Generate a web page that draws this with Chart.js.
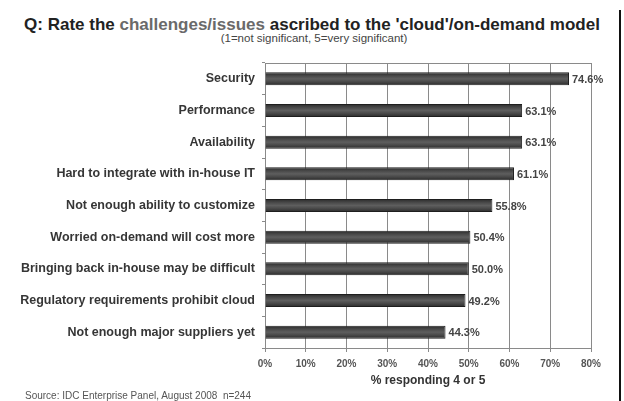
<!DOCTYPE html>
<html>
<head>
<meta charset="utf-8">
<script src="https://cdn.jsdelivr.net/npm/chart.js@4"></script>
<style>
  body { margin: 0; background: #fff; }
  #wrap { position: relative; width: 624px; height: 401px; overflow: hidden; font-family: "Liberation Sans", Arial, sans-serif; }
  #title { position: absolute; left: 0; width: 624px; top: 15px; text-align: center; font-weight: bold; font-size: 17px; color: #222; }
  #title span { color: #6a6a6a; }
  #sub { position: absolute; left: 2px; width: 624px; top: 32px; text-align: center; font-size: 11.5px; color: #444; }
  #source { position: absolute; left: 25px; top: 390px; font-size: 10px; color: #555; }
  #edge { position: absolute; left: 619px; top: 10px; width: 2px; height: 391px; background: #111; }
  canvas { position: absolute; left: 0; top: 0; }
</style>
</head>
<body>
<div id="wrap">
  <div id="title">Q: Rate the <span>challenges/issues</span> ascribed to the 'cloud'/on-demand model</div>
  <div id="sub">(1=not significant, 5=very significant)</div>
  <canvas id="chart" width="624" height="401"></canvas>
  <div id="source">Source: IDC Enterprise Panel, August 2008&nbsp; n=244</div>
  <div id="edge"></div>
</div>
<script>
  const categories = [
    "Security",
    "Performance",
    "Availability",
    "Hard to integrate with in-house IT",
    "Not enough ability to customize",
    "Worried on-demand will cost more",
    "Bringing back in-house may be difficult",
    "Regulatory requirements prohibit cloud",
    "Not enough major suppliers yet"
  ];
  const values = [74.6, 63.1, 63.1, 61.1, 55.8, 50.4, 50.0, 49.2, 44.3];
  const xTicks = [0, 10, 20, 30, 40, 50, 60, 70, 80];

  const FONT = "'Liberation Sans', Arial, sans-serif";

  // value labels at the end of each bar
  const valueLabels = {
    id: "valueLabels",
    afterDatasetsDraw(chart) {
      const ctx = chart.ctx;
      const meta = chart.getDatasetMeta(0);
      ctx.save();
      ctx.font = "bold 11px " + FONT;
      ctx.fillStyle = "#444";
      ctx.textBaseline = "middle";
      meta.data.forEach((bar, i) => {
        ctx.fillText(values[i].toFixed(1) + "%", bar.x + 3, bar.y + 1);
      });
      ctx.restore();
    }
  };

  // top/right frame of plot area
  const frame = {
    id: "frame",
    beforeDatasetsDraw(chart) {
      const { ctx, chartArea } = chart;
      ctx.save();
      ctx.strokeStyle = "#8a8a8a";
      ctx.lineWidth = 1;
      ctx.beginPath();
      ctx.moveTo(chartArea.left, chartArea.top + 0.5);
      ctx.lineTo(chartArea.right + 0.5, chartArea.top + 0.5);
      ctx.lineTo(chartArea.right + 0.5, chartArea.bottom);
      ctx.stroke();
      ctx.restore();
    }
  };

  // shaded bar fill (dark edges, lighter middle)
  function barFill(context) {
    const chart = context.chart;
    const yScale = chart.scales.y;
    if (!yScale || context.dataIndex === undefined) return "#444";
    const cy = yScale.getPixelForValue(context.dataIndex);
    if (!isFinite(cy)) return "#444";
    const g = chart.ctx.createLinearGradient(0, cy - 7, 0, cy + 7);
    g.addColorStop(0, "#262626");
    g.addColorStop(0.3, "#4a4a4a");
    g.addColorStop(0.5, "#5e5e5e");
    g.addColorStop(0.7, "#4a4a4a");
    g.addColorStop(1, "#262626");
    return g;
  }

  new Chart(document.getElementById("chart"), {
    type: "bar",
    data: {
      labels: categories,
      datasets: [{
        data: values,
        backgroundColor: barFill,
        borderColor: "#1e1e1e",
        borderWidth: 1,
        barPercentage: 0.82,
        categoryPercentage: 0.5
      }]
    },
    options: {
      indexAxis: "y",
      responsive: false,
      animation: false,
      layout: { padding: { top: 63, right: 33, bottom: 9, left: 0 } },
      plugins: {
        legend: { display: false },
        tooltip: { enabled: false }
      },
      scales: {
        x: {
          min: 0,
          max: 80,
          afterBuildTicks(scale) {
            scale.ticks = xTicks.map(v => ({ value: v }));
          },
          afterFit(scale) { scale.height = 44; },
          ticks: {
            callback: v => v + "%",
            font: { family: FONT, size: 10, weight: "bold" },
            color: "#555",
            padding: 6
          },
          grid: { color: "#8a8a8a", tickLength: 4 },
          border: { color: "#8a8a8a" },
          title: {
            display: true,
            text: "% responding 4 or 5",
            font: { family: FONT, size: 12, weight: "bold" },
            color: "#333",
            padding: { top: 2, bottom: 4 }
          }
        },
        y: {
          afterFit(scale) { scale.width = 265; },
          ticks: {
            font: { family: FONT, size: 12.5, weight: "bold" },
            color: "#363636",
            padding: 7
          },
          grid: { drawOnChartArea: false, color: "#8a8a8a", tickLength: 3 },
          border: { color: "#8a8a8a" }
        }
      }
    },
    plugins: [valueLabels, frame]
  });
</script>
</body>
</html>
